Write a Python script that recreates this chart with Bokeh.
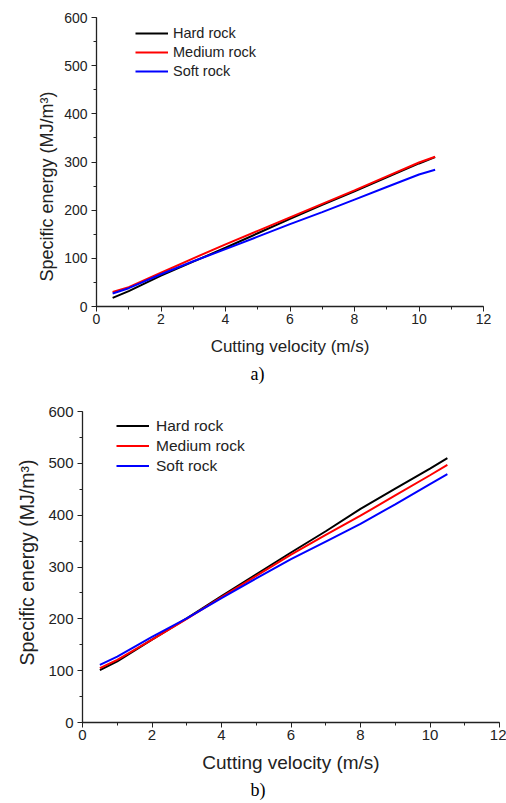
from bokeh.plotting import figure
from bokeh.models import Legend, LegendItem, SingleIntervalTicker, Range1d, Title
from bokeh.embed import file_html
from bokeh.resources import INLINE

# ---- data ----
velocity = [0.5, 1, 2, 3, 4, 5, 6, 7, 8, 9, 10, 10.5]

a_hard = [18, 32, 64, 93, 122, 152, 182, 211, 239, 268, 297, 310]
a_medium = [30, 40, 70, 100, 129, 157, 185, 213, 241, 270, 299, 311]
a_soft = [27, 38, 67, 94, 119, 145, 171, 196, 222, 248, 274, 284]

b_hard = [101, 118, 160, 201, 244, 286, 328, 369, 412, 451, 490, 510]
b_medium = [105, 121, 160, 200, 242, 283, 324, 362, 399, 438, 477, 497]
b_soft = [111, 127, 165, 201, 240, 278, 315, 349, 383, 421, 460, 479]

series_names = ["Hard rock", "Medium rock", "Soft rock"]
series_colors = ["#000000", "#ff0000", "#0000ff"]
x_label = "Cutting velocity (m/s)"
y_label = "Specific energy (MJ/m\u00b3)"
panel_tags = ["a)", "b)"]

FONT = "Liberation Sans"
SERIF = "Liberation Serif"


def make_panel(ys, tag, W, H, left, right, top, bottom,
               tick_fs, xlabel_fs, ylabel_fs, legend_fs, legend_loc, glyph_h,
               xlabel_standoff, ylabel_standoff, ylabel_offset,
               tag_offset, tag_standoff, leg_standoff):
    p = figure(width=W, height=H,
               min_border_left=left, min_border_right=right,
               min_border_top=top, min_border_bottom=bottom,
               x_range=Range1d(0, 12), y_range=Range1d(0, 600),
               output_backend="svg", toolbar_location=None)
    p.xgrid.visible = False
    p.ygrid.visible = False
    p.outline_line_color = None
    p.background_fill_color = "white"
    p.border_fill_color = "white"

    p.xaxis.ticker = SingleIntervalTicker(interval=2, num_minor_ticks=2)
    p.yaxis.ticker = SingleIntervalTicker(interval=100, num_minor_ticks=2)
    for ax in (p.xaxis[0], p.yaxis[0]):
        ax.axis_line_color = "#222222"
        ax.axis_line_width = 1.3
        ax.major_tick_line_color = "#222222"
        ax.minor_tick_line_color = "#222222"
        ax.major_tick_in = 0
        ax.major_tick_out = 5
        ax.minor_tick_in = 0
        ax.minor_tick_out = 3
        ax.major_label_text_font = FONT
        ax.major_label_text_font_size = tick_fs
        ax.major_label_text_color = "#222222"
        ax.axis_label_text_font = FONT
        ax.axis_label_text_font_style = "normal"
        ax.axis_label_text_color = "#222222"
    p.xaxis.axis_label_text_font_size = xlabel_fs
    p.xaxis.major_label_standoff = 2
    p.yaxis.major_label_standoff = 4
    p.xaxis.axis_label = x_label
    p.xaxis.axis_label_standoff = xlabel_standoff

    items = []
    for name, color, y in zip(series_names, series_colors, ys):
        r = p.line(velocity, y, line_color=color, line_width=2)
        items.append(LegendItem(label=name, renderers=[r]))

    legend = Legend(items=items, location=legend_loc,
                    border_line_color=None, background_fill_alpha=0,
                    padding=0, margin=0, spacing=1,
                    glyph_width=33, glyph_height=glyph_h, label_height=glyph_h,
                    label_standoff=leg_standoff,
                    label_text_font=FONT, label_text_font_size=legend_fs,
                    label_text_color="#222222")
    p.add_layout(legend)

    ylab = Title(text=y_label, align="left", offset=ylabel_offset,
                 standoff=ylabel_standoff,
                 text_font=FONT, text_font_size=ylabel_fs,
                 text_font_style="normal", text_color="#222222")
    p.add_layout(ylab, "left")

    t = Title(text=tag, align="left", offset=tag_offset, standoff=tag_standoff,
              text_font=SERIF, text_font_size="18px",
              text_font_style="normal", text_color="#000000")
    p.add_layout(t, "below")
    return p


p1 = make_panel([a_hard, a_medium, a_soft], panel_tags[0],
                W=506, H=395, left=96, right=23, top=17, bottom=89,
                tick_fs="14px", xlabel_fs="17px", ylabel_fs="18px",
                legend_fs="14.5px",
                legend_loc=(39, 226), glyph_h=18,
                xlabel_standoff=10, ylabel_standoff=9, ylabel_offset=25,
                tag_offset=154, tag_standoff=6, leg_standoff=5)

p2 = make_panel([b_hard, b_medium, b_soft], panel_tags[1],
                W=506, H=408, left=82, right=7, top=16, bottom=81,
                tick_fs="15px", xlabel_fs="19px", ylabel_fs="19.5px",
                legend_fs="15.5px",
                legend_loc=(34, 247), glyph_h=19,
                xlabel_standoff=9, ylabel_standoff=15, ylabel_offset=57,
                tag_offset=168, tag_standoff=5, leg_standoff=7)

open("out.html", "w").write(file_html([p1, p2], INLINE))
